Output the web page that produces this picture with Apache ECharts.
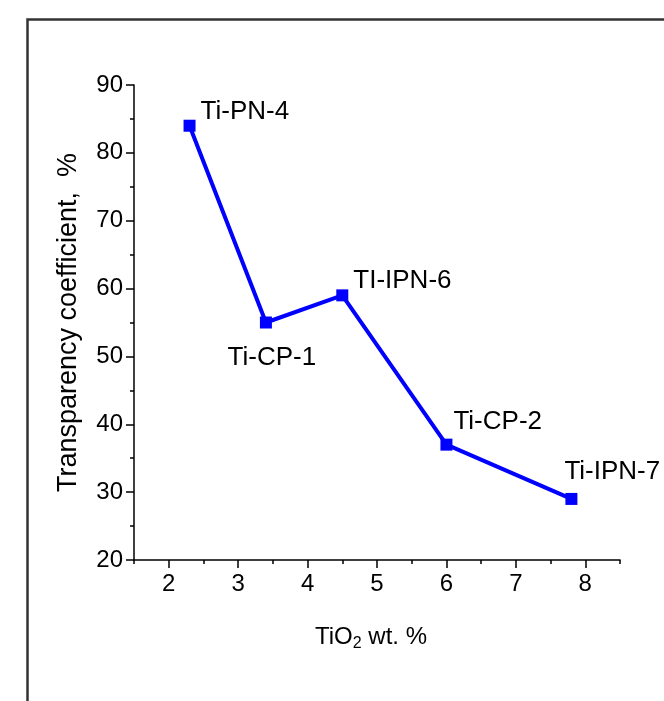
<!DOCTYPE html>
<html>
<head>
<meta charset="utf-8">
<script src="https://cdn.jsdelivr.net/npm/echarts@6/dist/echarts.min.js"></script>
<style>
html,body{margin:0;padding:0;background:#fff;}
#chart{width:664px;height:701px;}
</style>
</head>
<body>
<div id="chart"></div>
<script>
const tio2 = [2.3, 3.4, 4.5, 6.0, 7.8];
const transparency = [84, 55, 59, 37, 29];
const sampleNames = ['Ti-PN-4', 'Ti-CP-1', 'TI-IPN-6', 'Ti-CP-2', 'Ti-IPN-7'];
const xMajorTicks = [2, 3, 4, 5, 6, 7, 8];
const xMinorTicks = [1.5, 2.5, 3.5, 4.5, 5.5, 6.5, 7.5, 8.5];

const FONT = "'Liberation Sans', Arial, sans-serif";
const labelPlace = [
  {position: 'right', offset: [0, -14]},
  {position: 'bottom', offset: [6, 11]},
  {position: 'right', offset: [0, -15]},
  {position: 'right', offset: [-4, -23]},
  {position: 'right', offset: [-18, -27]}
];

const chart = echarts.init(document.getElementById('chart'));
const axisLine = {show: true, lineStyle: {color: '#000', width: 1.5}};
chart.setOption({
  animation: false,
  backgroundColor: '#fff',
  graphic: [{
    type: 'rect', left: 25, top: 17,
    shape: {width: 720, height: 720},
    style: {fill: 'none', stroke: '#333', lineWidth: 2.5}
  }],
  grid: {left: 134, right: 44, top: 85, bottom: 141},
  xAxis: [{
    type: 'value', min: 1.5, max: 8.5,
    axisLine: axisLine,
    splitLine: {show: false},
    axisTick: {show: true, length: 8, customValues: xMajorTicks, lineStyle: {color: '#000', width: 1.5}},
    axisLabel: {customValues: xMajorTicks, color: '#000', fontFamily: FONT, fontSize: 24, margin: 12},
    name: '{a|TiO}{b|2}{a| wt. %}',
    nameLocation: 'middle', nameGap: 62,
    nameTextStyle: {
      padding: [0, 12, 0, 0],
      rich: {
        a: {fontFamily: FONT, fontSize: 24, color: '#000', lineHeight: 30},
        b: {fontFamily: FONT, fontSize: 16, color: '#000', lineHeight: 30, padding: [14, 0, 0, 0]}
      }
    }
  }, {
    type: 'value', min: 1.5, max: 8.5, position: 'bottom',
    axisLine: {show: false},
    splitLine: {show: false},
    axisTick: {show: true, length: 4, customValues: xMinorTicks, lineStyle: {color: '#000', width: 1.5}},
    axisLabel: {show: false}
  }],
  yAxis: {
    type: 'value', min: 20, max: 90, interval: 10,
    axisLine: axisLine,
    splitLine: {show: false},
    axisTick: {show: true, length: 8, lineStyle: {color: '#000', width: 1.5}},
    minorTick: {show: true, splitNumber: 2, length: 4, lineStyle: {color: '#000', width: 1.5}},
    axisLabel: {color: '#000', fontFamily: FONT, fontSize: 24, margin: 11},
    name: 'Transparency coefficient,  %',
    nameLocation: 'middle', nameGap: 52,
    nameTextStyle: {fontFamily: FONT, fontSize: 27, color: '#000'}
  },
  series: [{
    type: 'line',
    xAxisIndex: 0,
    data: tio2.map((x, i) => ({
      value: [x, transparency[i]],
      label: Object.assign({show: true, formatter: sampleNames[i]}, labelPlace[i])
    })),
    symbol: 'rect', symbolSize: 12,
    lineStyle: {color: '#0000ff', width: 4},
    itemStyle: {color: '#0000ff'},
    label: {color: '#000', fontFamily: FONT, fontSize: 26}
  }]
});
</script>
</body>
</html>
